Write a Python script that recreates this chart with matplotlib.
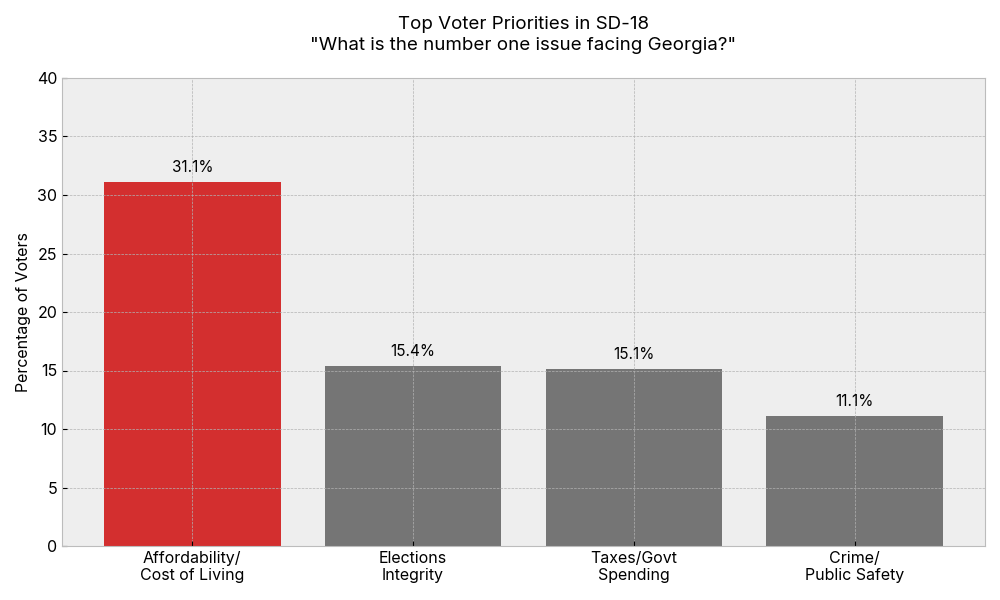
import matplotlib.pyplot as plt
import numpy as np

plt.style.use('bmh')
plt.rcParams['font.family'] = ['Inter', 'DejaVu Sans']

issues = ['Affordability/\nCost of Living', 'Elections\nIntegrity', 'Taxes/Govt\nSpending', 'Crime/\nPublic Safety']
pct = [31.1, 15.4, 15.1, 11.1]
colors = ['#d32f2f', '#757575', '#757575', '#757575']

fig, ax = plt.subplots(figsize=(10, 6), dpi=100)
fig.subplots_adjust(left=0.062, right=0.985, top=0.87, bottom=0.09)

x = np.arange(len(issues))
bars = ax.bar(x, pct, width=0.8, color=colors)
for b, v in zip(bars, pct):
    ax.text(b.get_x() + b.get_width()/2, v + 0.6, f'{v:.1f}%', ha='center', va='bottom', fontsize=11)

ax.set_xticks(x)
ax.set_xticklabels(issues, fontsize=11.5)
ax.tick_params(axis='y', labelsize=11.5)
ax.tick_params(axis='x', direction='in')
ax.set_ylim(0, 40)
ax.set_ylabel('Percentage of Voters', fontsize=11.5)
ax.set_title('Top Voter Priorities in SD-18\n"What is the number one issue facing Georgia?"', fontsize=13.5, pad=20, linespacing=1.35)

fig.savefig('out.png')
